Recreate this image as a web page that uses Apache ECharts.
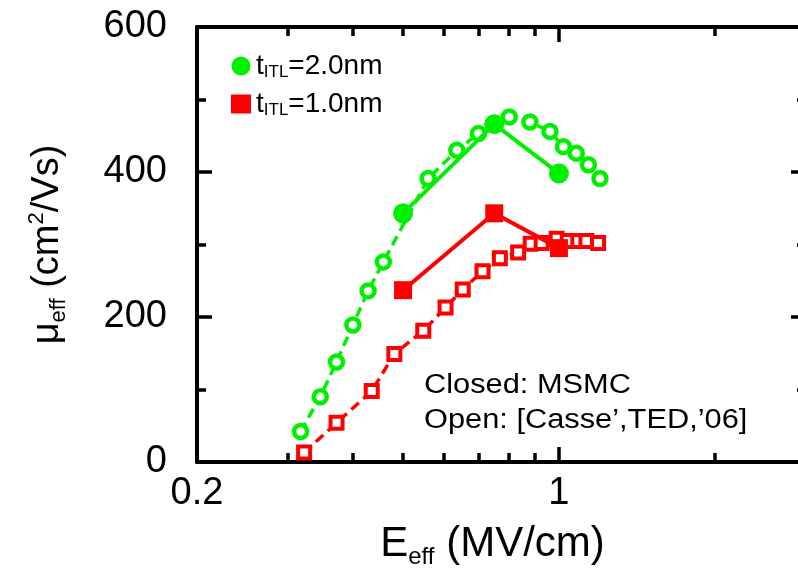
<!DOCTYPE html>
<html><head><meta charset="utf-8">
<script src="https://cdn.jsdelivr.net/npm/echarts@6/dist/echarts.min.js"></script>
<style>html,body{margin:0;padding:0;background:#fff}#c{width:798px;height:581px}</style>
</head><body><div id="c"></div>
<script>
// Tick positions / labels
const xTickMajor = [1];
const xTickMinor = [0.3, 0.4, 0.5, 0.6, 0.7, 0.8, 0.9, 2];
const xLabelValues = [0.2, 1];

// Closed symbols: MSMC
const msmc2nmE  = [0.5, 0.75, 1.0];
const msmc2nmMu = [343, 466, 398];
const msmc1nmE  = [0.5, 0.75, 1.0];
const msmc1nmMu = [237, 343, 295];

// Open symbols: [Casse', TED, '06]
const casse2nmE  = [0.317, 0.346, 0.372, 0.400, 0.428, 0.458, 0.559, 0.635, 0.699, 0.802, 0.879, 0.961, 1.02, 1.08, 1.14, 1.20];
const casse2nmMu = [42, 90, 138, 189, 236, 276, 391, 430, 453, 476, 469, 456, 435, 426, 410, 391];
const casse1nmE  = [0.322, 0.372, 0.435, 0.481, 0.547, 0.604, 0.652, 0.712, 0.769, 0.834, 0.882, 0.926, 0.990, 1.04, 1.09, 1.13, 1.19];
const casse1nmMu = [13, 54, 98, 149, 181, 213, 238, 263, 281, 289, 301, 302, 308, 305, 305, 305, 302];

const GREEN = '#00f000', RED = '#ff0000';
const FONT = 'Liberation Sans, Arial, Helvetica, sans-serif';
const zip = (a, b) => a.map((v, i) => [v, b[i]]);

const chart = echarts.init(document.getElementById('c'), null, {renderer: 'canvas'});

const baseX = () => ({
  type: 'log', logBase: 10, min: 0.2, max: 3,
  splitLine: {show: false}, minorSplitLine: {show: false}
});
const axLine = () => ({color: '#000', width: 4});
const tkLine = () => ({color: '#000', width: 3.5});

const option = {
  backgroundColor: '#fff',
  animation: false,
  textStyle: {fontFamily: FONT},
  grid: {left: 197, top: 27, width: 609, height: 435, containLabel: false, outerBoundsMode: 'none'},
  legend: {
    orient: 'vertical', left: 226, top: 46, itemGap: 8,
    itemWidth: 20, itemHeight: 19,
    data: [{name: '2nm', icon: 'circle'}, {name: '1nm', icon: 'rect'}],
    formatter: n => n === '2nm' ? 't{sub|ITL}=2.0nm' : 't{sub|ITL}=1.0nm',
    textStyle: {
      fontFamily: FONT, fontSize: 28, color: '#000', lineHeight: 30,
      rich: {sub: {fontFamily: FONT, fontSize: 17, color: '#000', verticalAlign: 'bottom', lineHeight: 30, padding: [13, 0, 0, 0]}}
    }
  },
  xAxis: [
    Object.assign(baseX(), {
      position: 'bottom',
      name: 'E{sub|eff} (MV/cm)', nameLocation: 'middle', nameGap: 58,
      nameTextStyle: {fontFamily: FONT, fontSize: 42, color: '#000', padding: [0, 18, 0, 0],
        rich: {sub: {fontFamily: FONT, fontSize: 24, color: '#000', verticalAlign: 'bottom', padding: [25, 0, 0, 0]}}},
      axisLine: {show: true, lineStyle: axLine()},
      axisTick: {show: true, inside: true, length: 15, customValues: xTickMajor, lineStyle: tkLine()},
      axisLabel: {show: true, customValues: xLabelValues, margin: 13, fontFamily: FONT, fontSize: 38, color: '#000',
        formatter: v => String(+v.toPrecision(3))}
    }),
    Object.assign(baseX(), {
      position: 'bottom',
      axisLine: {show: false},
      axisTick: {show: true, inside: true, length: 9, customValues: xTickMinor, lineStyle: tkLine()},
      axisLabel: {show: false}
    }),
    Object.assign(baseX(), {
      position: 'top',
      axisLine: {show: true, lineStyle: axLine()},
      axisTick: {show: true, inside: true, length: 15, customValues: xTickMajor, lineStyle: tkLine()},
      axisLabel: {show: false}
    }),
    Object.assign(baseX(), {
      position: 'top',
      axisLine: {show: false},
      axisTick: {show: true, inside: true, length: 9, customValues: xTickMinor, lineStyle: tkLine()},
      axisLabel: {show: false}
    })
  ],
  yAxis: [
    {
      type: 'value', min: 0, max: 600, interval: 200, position: 'left',
      name: '{mu|μ}{sub|eff} (cm{sup|2}/Vs)', nameLocation: 'middle', nameGap: 127, nameRotate: 90,
      nameTextStyle: {fontFamily: FONT, fontSize: 38, color: '#000',
        rich: {
          mu: {fontFamily: FONT, fontSize: 38, color: '#000'},
          sub: {fontFamily: FONT, fontSize: 22, color: '#000', verticalAlign: 'bottom', padding: [22, 0, 0, 0]},
          sup: {fontFamily: FONT, fontSize: 22, color: '#000', verticalAlign: 'top', padding: [0, 0, 16, 0]}
        }},
      axisLine: {show: true, lineStyle: axLine()},
      axisTick: {show: true, inside: true, length: 15, lineStyle: tkLine()},
      minorTick: {show: true, splitNumber: 2, length: 9, lineStyle: tkLine()},
      axisLabel: {margin: 30, fontFamily: FONT, fontSize: 38, color: '#000'},
      splitLine: {show: false}, minorSplitLine: {show: false}
    },
    {
      type: 'value', min: 0, max: 600, interval: 200, position: 'right',
      axisLine: {show: true, lineStyle: axLine()},
      axisTick: {show: true, inside: true, length: 15, lineStyle: tkLine()},
      minorTick: {show: true, splitNumber: 2, length: 9, lineStyle: tkLine()},
      axisLabel: {show: false},
      splitLine: {show: false}, minorSplitLine: {show: false}
    }
  ],
  graphic: [
    {type: 'text', x: 424, y: 372, scaleX: 1.14, z: 10,
      style: {text: 'Closed: MSMC', font: '27px ' + FONT, fill: '#000'}},
    {type: 'text', x: 424, y: 407, scaleX: 1.14, z: 10,
      style: {text: 'Open: [Casse\u2019,TED,\u201906]', font: '27px ' + FONT, fill: '#000'}}
  ],
  series: [
    {
      name: 'casse2nm', type: 'line', xAxisIndex: 0, yAxisIndex: 0,
      data: zip(casse2nmE, casse2nmMu),
      symbol: 'circle', symbolSize: 13,
      itemStyle: {color: '#fff', borderColor: GREEN, borderWidth: 4.5},
      lineStyle: {color: GREEN, width: 3.5, type: [10, 6]}, z: 2
    },
    {
      name: 'casse1nm', type: 'line', xAxisIndex: 0, yAxisIndex: 0,
      data: zip(casse1nmE, casse1nmMu),
      symbol: 'rect', symbolSize: 12,
      itemStyle: {color: '#fff', borderColor: RED, borderWidth: 4},
      lineStyle: {color: RED, width: 3.5, type: [10, 6]}, z: 2
    },
    {
      name: '2nm', type: 'line', xAxisIndex: 0, yAxisIndex: 0,
      data: zip(msmc2nmE, msmc2nmMu),
      symbol: 'circle', symbolSize: 20,
      itemStyle: {color: GREEN},
      lineStyle: {color: GREEN, width: 4}, z: 3
    },
    {
      name: '1nm', type: 'line', xAxisIndex: 0, yAxisIndex: 0,
      data: zip(msmc1nmE, msmc1nmMu),
      symbol: 'rect', symbolSize: 18,
      itemStyle: {color: RED},
      lineStyle: {color: RED, width: 4}, z: 3
    }
  ]
};
chart.setOption(option);
</script>
</body></html>
